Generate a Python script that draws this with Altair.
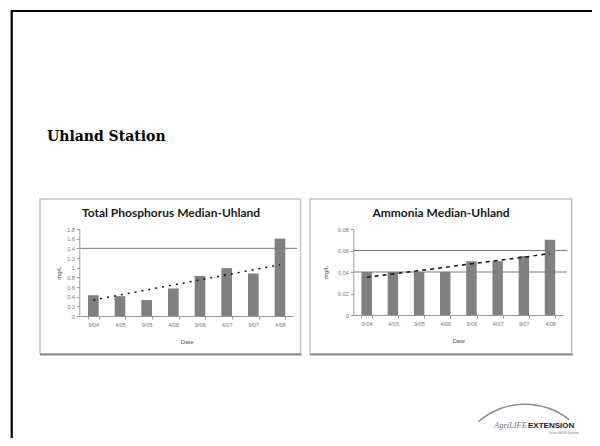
import altair as alt
import pandas as pd

# ---------------- data ----------------
dates = ["9/04", "4/05", "9/05", "4/06", "9/06", "4/07", "9/07", "4/08"]
tp_values = [0.43, 0.41, 0.33, 0.57, 0.83, 0.99, 0.88, 1.60]
nh3_values = [0.04, 0.04, 0.04, 0.04, 0.05, 0.05, 0.055, 0.07]
trend_dates = ["9/04", "4/08"]
tp_trend = [0.33, 1.06]
nh3_trend = [0.035, 0.057]
tp_ref_lines = [1.4]
nh3_ref_lines = [0.04, 0.06]
tp_ticks = [0, 0.2, 0.4, 0.6, 0.8, 1.0, 1.2, 1.4, 1.6, 1.8]
nh3_ticks = [0, 0.02, 0.04, 0.06, 0.08]

heading = "Uhland Station"
tp_title = "Total Phosphorus Median-Uhland"
nh3_title = "Ammonia Median-Uhland"
y_title = "mg/L"
x_title = "Date"

# ---------------- layout (chart px; page = chart + 8) ----------------
W, H = 584, 430
LABEL_FONT = "Liberation Sans"
TITLE_FONT = "Lato"


def one(**kw):
    return alt.Data(values=[kw or {"a": 1}])


def panel(values, trend, refs, ticks, ymax, xr, yr, yaxis_x, ytitle_x):
    xs = alt.Scale(domain=dates, range=xr, paddingInner=0.6, paddingOuter=0.3)
    ys = alt.Scale(domain=[0, ymax], range=yr, nice=False, zero=True)
    x_axis = alt.Axis(
        orient="bottom", offset=yr[0] - H, labelAngle=0, labelFont=LABEL_FONT,
        labelFontSize=5.5, labelColor="#777777", labelPadding=3, tickSize=3,
        tickColor="#999999", domainColor="#999999", tickBand="extent",
        grid=False, title=x_title, titleFont=LABEL_FONT, titleFontSize=6,
        titleFontWeight="normal", titleColor="#555555", titleY=25,
        titleBaseline="middle", zindex=2)
    y_axis = alt.Axis(
        orient="left", offset=-yaxis_x, values=ticks,
        labelExpr="format(datum.value, '~g')", labelFont=LABEL_FONT,
        labelFontSize=5.5, labelColor="#777777", labelPadding=2, tickSize=3,
        tickColor="#999999", domainColor="#999999", grid=False,
        title=y_title, titleFont=LABEL_FONT, titleFontSize=6,
        titleFontWeight="normal", titleColor="#444444",
        titleX=ytitle_x - yaxis_x, titleY=(yr[0] + yr[1]) / 2,
        titleAngle=-90, titleBaseline="middle", titleAlign="center", zindex=2)
    x = alt.X("date:N", scale=xs, sort=dates, axis=x_axis)
    y = alt.Y("v:Q", scale=ys, axis=y_axis)

    bars = alt.Chart(pd.DataFrame({"date": dates, "v": values})).mark_bar(
        color="#808080").encode(x=x, y=y)
    rules = alt.Chart(pd.DataFrame({"v": refs})).mark_rule(
        color="#7a7a7a", strokeWidth=1).encode(
        y=y, x=alt.value(xr[0]), x2=alt.value(xr[1] + 4))
    tr = alt.Chart(pd.DataFrame({"date": trend_dates, "v": trend})).mark_line(
        color="#111111", strokeWidth=1.5,
        strokeDash=[2, 5] if ymax > 1 else [4, 4]).encode(x=x, y=y)
    return alt.layer(bars, rules, tr)


left = panel(tp_values, tp_trend, tp_ref_lines, tp_ticks, 1.8,
             [72, 285.3], [308, 221], 71.3, 50)
right = panel(nh3_values, nh3_trend, nh3_ref_lines, nh3_ticks, 0.08,
              [345.6, 555.1], [307, 221], 345.3, 317)

# ---------------- decorations ----------------
border = alt.Chart(one()).mark_rect(fill=None, stroke="#000000", strokeWidth=2.2).encode(
    x=alt.value(3.7), x2=alt.value(590.5), y=alt.value(3), y2=alt.value(470))

head = alt.Chart(one()).mark_text(
    align="left", baseline="alphabetic", font="DejaVu Serif",
    fontSize=14, fontWeight="bold", color="#000000").encode(
    x=alt.value(39), y=alt.value(133), text=alt.value(heading))


def frame(x0, x1):
    box = alt.Chart(one()).mark_rect(fill=None, stroke="#c4c4c4", strokeWidth=1.5).encode(
        x=alt.value(x0), x2=alt.value(x1), y=alt.value(191), y2=alt.value(346))
    shadow = alt.Chart(one()).mark_rule(color="#8a8a8a", strokeWidth=2).encode(
        x=alt.value(x0), x2=alt.value(x1 + 1), y=alt.value(346.5))
    return [box, shadow]


def ctitle(text, cx):
    return alt.Chart(one()).mark_text(
        align="center", baseline="middle", font=TITLE_FONT, fontSize=12,
        fontWeight="bold", color="#1a1a1a").encode(
        x=alt.value(cx), y=alt.value(205), text=alt.value(text))


swoosh = alt.Chart(one()).mark_arc(color="#8c8c8c").encode(
    x=alt.value(517), y=alt.value(467), radius=alt.value(71.5),
    radius2=alt.value(70), theta=alt.value(-0.72), theta2=alt.value(0.68))
agri = alt.Chart(one()).mark_text(
    align="right", baseline="alphabetic", font="Liberation Serif",
    fontStyle="italic", fontSize=8.5, color="#7a7a7a").encode(
    x=alt.value(519), y=alt.value(419.5), text=alt.value("AgriLIFE"))
ext = alt.Chart(one()).mark_text(
    align="left", baseline="alphabetic", font="Liberation Sans",
    fontWeight="bold", fontSize=8, color="#222222").encode(
    x=alt.value(520), y=alt.value(419.5), text=alt.value("EXTENSION"))
tams = alt.Chart(one()).mark_text(
    align="right", baseline="middle", font="Liberation Sans",
    fontSize=3.5, color="#888888").encode(
    x=alt.value(571), y=alt.value(425), text=alt.value("Texas A&M System"))

layers = [border, head] + frame(32, 292.5) + frame(302, 563.7) + [
    ctitle(tp_title, 163), ctitle(nh3_title, 433), left, right,
    swoosh, agri, ext, tams]

chart = alt.layer(*layers).resolve_scale(
    x="independent", y="independent").properties(
    width=W, height=H, autosize=alt.AutoSizeParams(type="none"), padding=0,
    background="#ffffff").configure_view(stroke=None)

chart.save("out.html", embed_options={"renderer": "svg", "actions": False})
